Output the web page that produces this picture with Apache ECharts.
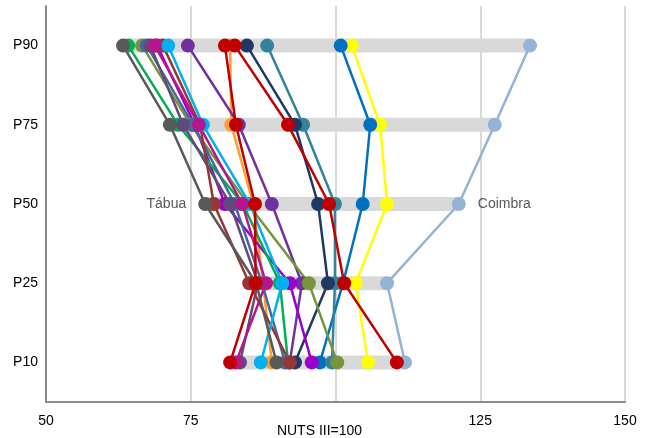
<!DOCTYPE html>
<html>
<head>
<meta charset="utf-8">
<script src="https://cdn.jsdelivr.net/npm/echarts@6/dist/echarts.min.js"></script>
<style>html,body{margin:0;padding:0;background:#fff;}#c{width:649px;height:438px;}</style>
</head>
<body>
<div id="c"></div>
<script>
// Categories (bottom to top)
const categories = ['P10', 'P25', 'P50', 'P75', 'P90'];
const xTicks = [50, 75, 100, 125, 150];

// Series values: [P10, P25, P50, P75, P90]
const coimbra    = [112.0, 108.9, 121.3, 127.5, 133.6];
const tabua      = [89.8, 86.3, 77.5, 71.4, 63.3];
const yellowS    = [105.6, 103.5, 108.9, 107.7, 102.8];
const blueS      = [97.3, 101.3, 104.7, 106.0, 100.9];
const tealS      = [99.4, 99.9, 99.9, 94.4, 88.2];
const navyS      = [93.0, 98.7, 97.0, 93.0, 84.7];
const orangeS    = [89.0, 87.5, 85.8, 82.0, 81.8];
const purpleS    = [92.1, 94.2, 89.0, 83.3, 74.5];
const violetS    = [95.9, 92.1, 80.9, 75.7, 69.2];
const magentaS   = [82.8, 88.0, 83.9, 76.4, 68.8];
const lightBlueS = [87.1, 90.8, 85.2, 77.1, 71.1];
const greenS     = [91.8, 90.4, 84.0, 72.8, 64.2];
const oliveS     = [100.3, 95.4, 84.9, 75.0, 66.6];
const steelS     = [91.3, 87.3, 82.6, 75.4, 67.4];
const brownS     = [92.1, 85.1, 79.0, 76.6, 70.2];
const darkPurpS  = [83.5, 86.6, 81.8, 73.7, 68.0];
const redB       = [81.8, 86.2, 86.1, 82.8, 80.9];
const redA       = [110.6, 101.5, 98.9, 91.8, 82.6];

const seriesList = [
  {name: 'Coimbra', data: coimbra, color: '#95b3d7', label: 'right'},
  {name: 'Amarelo', data: yellowS, color: '#ffff00'},
  {name: 'Azul', data: blueS, color: '#0070c0'},
  {name: 'Teal', data: tealS, color: '#31849b'},
  {name: 'Navy', data: navyS, color: '#1f3864'},
  {name: 'Laranja', data: orangeS, color: '#f9a12e'},
  {name: 'Roxo', data: purpleS, color: '#7030a0'},
  {name: 'Violeta', data: violetS, color: '#9900cc'},
  {name: 'Verde', data: greenS, color: '#00b050'},
  {name: 'Oliva', data: oliveS, color: '#77933c'},
  {name: 'Aço', data: steelS, color: '#426aa0'},
  {name: 'RoxoEsc', data: darkPurpS, color: '#604a7b'},
  {name: 'Castanho', data: brownS, color: '#953735'},
  {name: 'AzulClaro', data: lightBlueS, color: '#00b0f0'},
  {name: 'Magenta', data: magentaS, color: '#b7168b'},
  {name: 'Tábua', data: tabua, color: '#595959', label: 'left'},
  {name: 'VermelhoB', data: redB, color: '#c00000'},
  {name: 'VermelhoA', data: redA, color: '#c00000'}
];

const mins = categories.map((c, i) => Math.min(...seriesList.map(s => s.data[i])));
const maxs = categories.map((c, i) => Math.max(...seriesList.map(s => s.data[i])));

const chart = echarts.init(document.getElementById('c'), null, {renderer: 'canvas'});

const series = [
  {type: 'bar', stack: 'range', data: mins, barWidth: 14, itemStyle: {color: 'transparent'}, silent: true, z: 1},
  {type: 'bar', stack: 'range', data: maxs.map((m, i) => m - mins[i]), barWidth: 14, itemStyle: {color: '#d9d9d9'}, silent: true, z: 1}
];
seriesList.forEach(s => {
  const data = s.data.map((v, i) => {
    if (s.label && i === 2) {
      return {value: v, label: {show: true, position: s.label, distance: 12, formatter: s.name,
        color: '#595959', fontSize: 14, fontFamily: 'Liberation Sans, Arial, sans-serif'}};
    }
    return v;
  });
  series.push({
    type: 'line', name: s.name, data: data, symbol: 'circle', symbolSize: 14,
    lineStyle: {color: s.color, width: 2.5}, itemStyle: {color: s.color},
    z: 3, animation: false
  });
});

chart.setOption({
  animation: false,
  grid: {left: 46, right: 24, top: 6, bottom: 31, containLabel: false},
  xAxis: {
    type: 'value', min: xTicks[0], max: xTicks[xTicks.length - 1], interval: 25,
    axisLine: {show: true, lineStyle: {color: '#8c8c8c', width: 2}},
    axisTick: {show: false},
    splitLine: {show: true, lineStyle: {color: '#d9d9d9', width: 2}},
    axisLabel: {
      color: '#000', fontSize: 14, margin: 12, fontFamily: 'Liberation Sans, Arial, sans-serif',
      formatter: v => v === 100 ? '{n|NUTS III=100}' : String(v),
      rich: {n: {fontSize: 14, color: '#000', padding: [10, 32, 0, 0], fontFamily: 'Liberation Sans, Arial, sans-serif'}}
    }
  },
  yAxis: {
    type: 'category', data: categories, boundaryGap: true,
    axisLine: {show: true, lineStyle: {color: '#8c8c8c', width: 2}},
    axisTick: {show: false},
    splitLine: {show: false},
    axisLabel: {color: '#000', fontSize: 14, margin: 8, fontFamily: 'Liberation Sans, Arial, sans-serif'}
  },
  series: series
});
</script>
</body>
</html>
